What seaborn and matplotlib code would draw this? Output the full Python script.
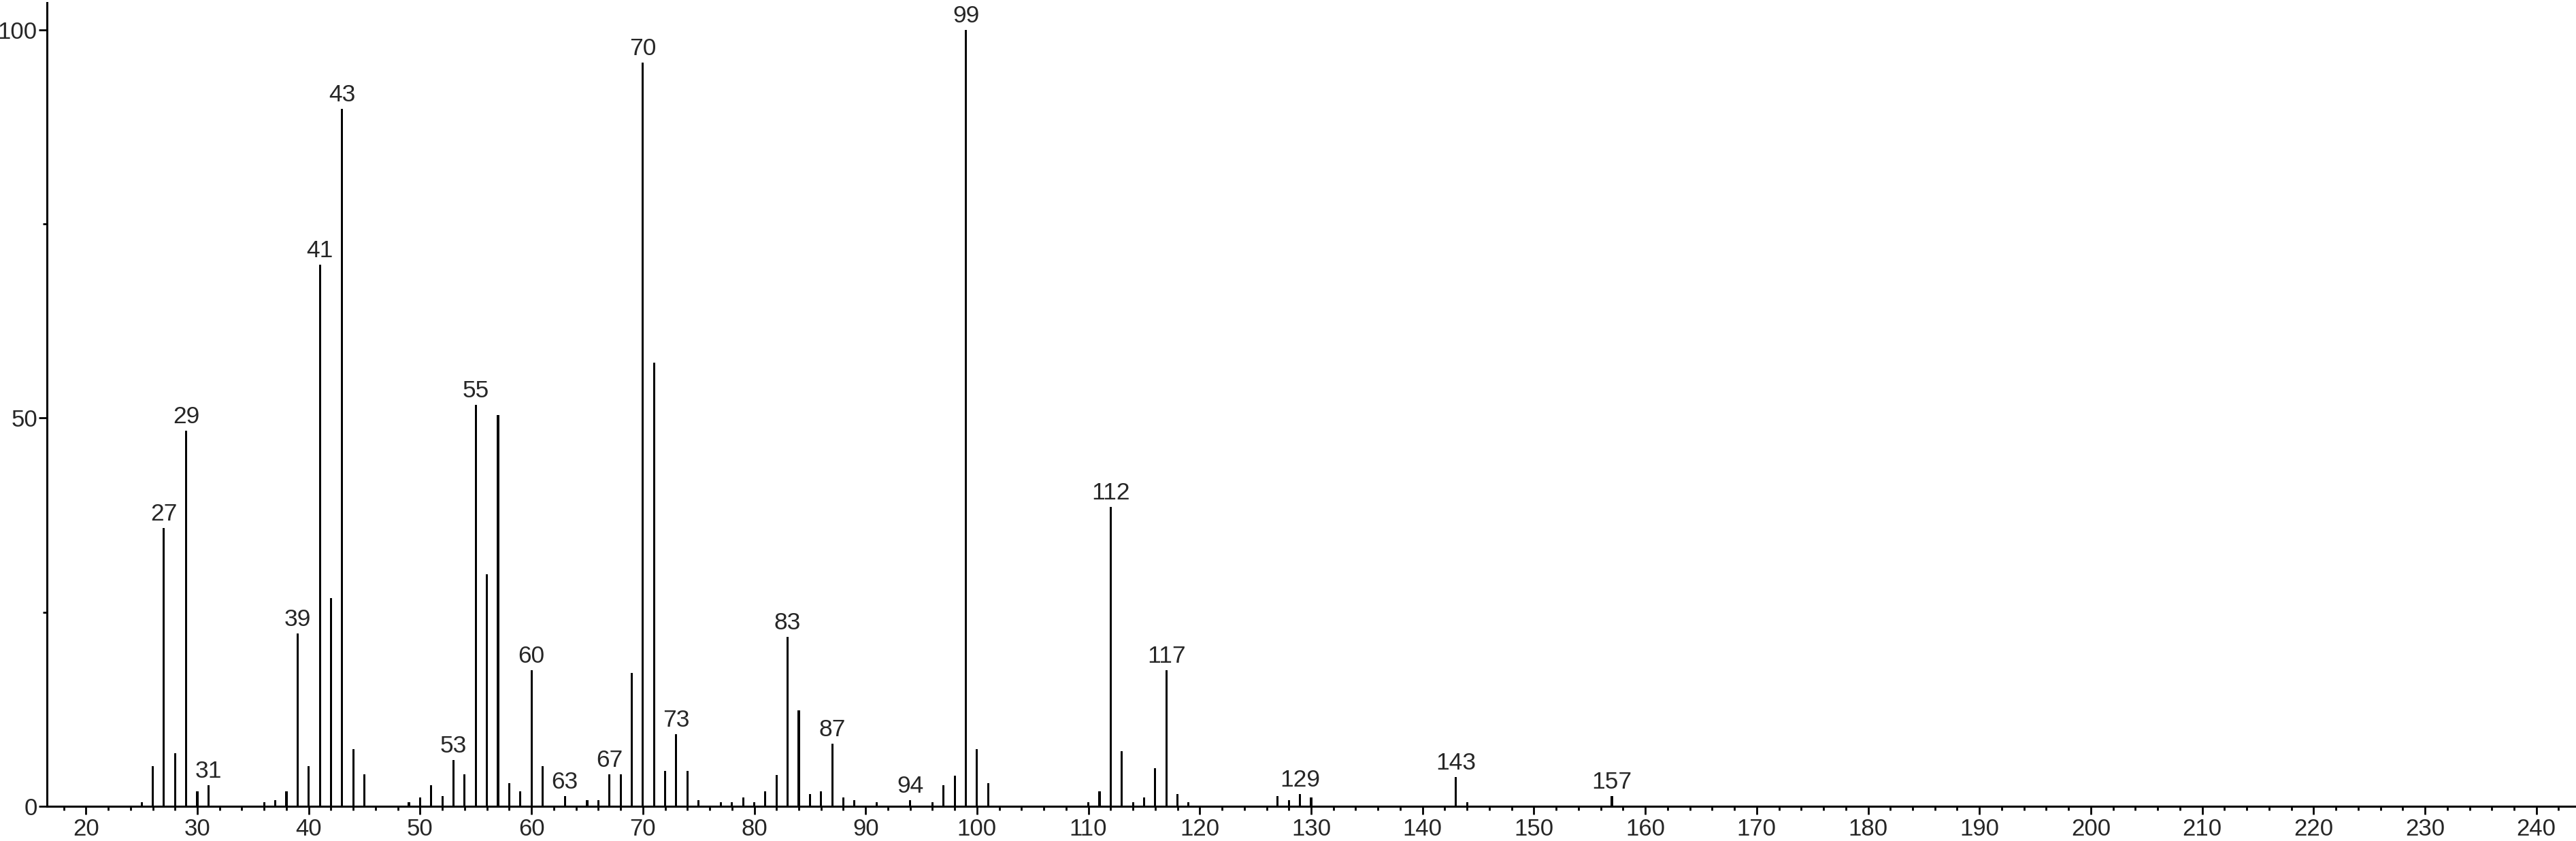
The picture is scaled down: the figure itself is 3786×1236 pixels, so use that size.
import matplotlib
matplotlib.use("Agg")
import matplotlib.pyplot as plt
from matplotlib.ticker import MultipleLocator
import pandas as pd
import seaborn as sns

sns.set_style("ticks")
plt.rcParams['font.family'] = ['Liberation Sans', 'DejaVu Sans']

# mass spectrum: m/z and relative intensity (%)
mz = [25, 26, 27, 28, 29, 30, 31, 36, 37, 38, 39, 40, 41, 42, 43, 44, 45,
      49, 50, 51, 52, 53, 54, 55, 56, 57, 58, 59, 60, 61, 63, 65, 66, 67, 68,
      69, 70, 71, 72, 73, 74, 75, 77, 78, 79, 80, 81, 82, 83, 84, 85, 86, 87,
      88, 89, 91, 94, 96, 97, 98, 99, 100, 101, 110, 111, 112, 113, 114, 115,
      116, 117, 118, 119, 127, 128, 129, 130, 143, 144, 157]
intensity = [0.5, 5.2, 35.8, 6.8, 48.4, 1.9, 2.7, 0.5, 0.8, 1.9, 22.3, 5.2, 69.8, 26.8, 89.8, 7.4, 4.1,
             0.5, 1.1, 2.7, 1.3, 6.0, 4.1, 51.7, 29.9, 50.4, 3.0, 1.9, 17.5, 5.2, 1.3, 0.8, 0.8, 4.1, 4.1,
             17.2, 95.8, 57.1, 4.6, 9.3, 4.6, 0.8, 0.5, 0.5, 1.1, 0.5, 1.9, 4.0, 21.8, 12.4, 1.6, 1.9, 8.1,
             1.1, 0.8, 0.5, 0.8, 0.5, 2.7, 3.9, 100.0, 7.4, 3.0, 0.5, 1.9, 38.6, 7.1, 0.5, 1.1,
             4.9, 17.5, 1.6, 0.5, 1.3, 0.8, 1.6, 1.1, 3.8, 0.5, 1.3]
labeled = [27, 29, 31, 39, 41, 43, 53, 55, 60, 63, 67, 70, 73, 83, 87, 94,
           99, 112, 117, 129, 143, 157]

df = pd.DataFrame({"mz": mz, "intensity": intensity})

W, H = 3786, 1236
fig = plt.figure(figsize=(W / 100, H / 100), dpi=100)
ax = fig.add_axes([69 / W, 51 / H, 1 - 69 / W, 1181 / H])

sns.barplot(data=df, x="mz", y="intensity", native_scale=True, width=0.19,
            color="black", saturation=1, linewidth=0, errorbar=None, ax=ax)

# peak labels
for m, v in zip(mz, intensity):
    if m in labeled:
        ax.annotate(str(m), (m, v), xytext=(0, 4), textcoords="offset pixels",
                    ha="center", va="bottom", fontsize=25.5)

ax.set_xlim(16.5, 243.56)
ax.set_ylim(0, 103.5)
ax.set_xticks(range(20, 241, 10))
ax.xaxis.set_minor_locator(MultipleLocator(2))
ax.set_yticks([0, 50, 100])
ax.set_yticks([25, 75], minor=True)
ax.set_xlabel("")
ax.set_ylabel("")

ax.tick_params(which="both", color="black", width=2)
ax.tick_params(axis="x", which="major", length=8.6, labelsize=25, pad=4)
ax.tick_params(axis="x", which="minor", length=4.3)
ax.tick_params(axis="y", which="major", length=8.6, labelsize=25, pad=1.5)
ax.tick_params(axis="y", which="minor", length=4.3)

sns.despine(ax=ax)
for s in ["left", "bottom"]:
    ax.spines[s].set_linewidth(2.2)
    ax.spines[s].set_color("black")

fig.savefig("out.png", dpi=100)
plt.close(fig)
